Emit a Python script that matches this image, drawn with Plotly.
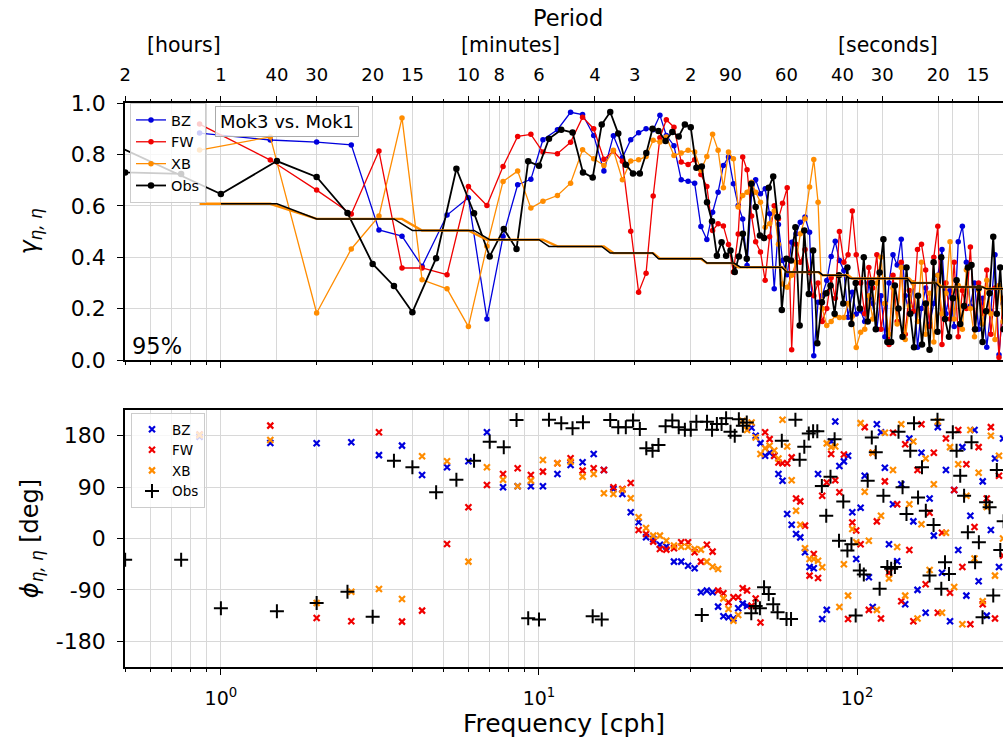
import numpy as np
import plotly.graph_objects as go

# ---------------- data ----------------
F_MODEL = [0.857, 1.43, 2.0, 2.57, 3.14, 3.71, 4.29, 5.14, 6.0, 6.86,
           7.71, 8.57, 9.43, 10.29, 11.43, 12.57, 13.71, 14.86, 16.0, 17.14,
           18.29, 19.43, 20.57, 21.71, 22.86, 24.0, 25.14, 26.57, 28.0, 29.43,
           30.86, 32.29, 33.71, 35.14, 36.57, 38.0, 39.43, 40.86,
           42.3, 43.7, 45.1, 46.6, 48.0, 49.7, 51.4, 53.1, 54.9, 56.6,
           58.3, 60.3, 62.3, 64.3, 66.3, 68.6, 70.9, 73.1, 75.4, 77.7,
           80.3, 82.9, 85.4, 88.0, 90.9, 93.7, 96.6, 99.4, 102.6,
           105.7, 108.9, 112.0, 115.4, 118.9, 122.3, 126.0, 129.7, 133.7, 137.7,
           141.7, 146.0, 150.3, 154.9, 159.4, 164.3, 169.1, 174.3, 179.4, 184.9,
           190.3, 196.0, 202.0, 208.0, 214.3, 220.6, 227.1, 234.0, 241.1, 248.3,
           255.7, 263.4, 271.4, 279.4, 287.7]

# observed series, in the order its line is drawn (the third point lies left of the view)
F_OBS = [0.75, 0.5, 0.25, 1.0, 1.5, 2.0, 2.5, 3.0, 3.5, 4.0, 4.75,
         5.5, 6.25, 7.0, 7.75, 8.5, 9.25, 10.0, 10.75, 11.75, 12.75,
         13.75, 14.75, 15.75, 16.75, 17.75, 18.75, 19.75, 20.75, 21.75, 22.75,
         23.75, 25.0, 26.25, 27.5, 28.75, 30.0, 31.25, 32.5, 33.75, 35.0,
         36.25, 37.5, 38.75, 40.0,
         41.25, 42.5, 43.75, 45.0, 46.5, 48.0, 49.5, 51.0, 52.75, 54.5,
         56.25, 58.0, 60.0, 62.0, 64.0, 66.0, 68.25, 70.5, 72.75, 75.0,
         77.5, 80.0, 82.5, 85.0, 87.75, 90.5, 93.25, 96.0, 99.0, 102.0,
         105.0, 108.0, 111.25, 114.5, 117.75, 121.0, 124.5, 128.0, 131.5, 135.0,
         139.0, 143.0, 147.0, 151.0, 155.5, 160.0, 164.5, 169.0, 174.0, 179.0,
         184.0, 189.0, 194.5, 200.0, 205.5, 211.0, 217.0, 223.0, 229.0, 235.0,
         241.5, 248.0, 254.5, 261.0, 268.0, 275.0, 282.0, 289.0]

COH_BZ = [0.883, 0.856, 0.848, 0.837, 0.506, 0.482, 0.365, 0.564, 0.631, 0.160,
          0.481, 0.682, 0.703, 0.857, 0.896, 0.964, 0.955, 0.874, 0.735, 0.873,
          0.787, 0.857, 0.884, 0.900, 0.896, 0.952, 0.874, 0.834, 0.701, 0.696,
          0.688, 0.519, 0.469, 0.575, 0.653, 0.757, 0.790, 0.686,
          0.601, 0.549, 0.368, 0.647, 0.701, 0.647, 0.666, 0.569, 0.277, 0.527,
          0.387, 0.332, 0.458, 0.491, 0.536, 0.556, 0.497, 0.017, 0.225, 0.251,
          0.309, 0.403, 0.462, 0.387, 0.348, 0.166, 0.264, 0.179, 0.192,
          0.15, 0.30, 0.22, 0.12, 0.25, 0.09, 0.30, 0.41, 0.37, 0.47,
          0.25, 0.18, 0.30, 0.05, 0.20, 0.28, 0.14, 0.22, 0.33, 0.43,
          0.18, 0.27, 0.13, 0.46, 0.52, 0.38, 0.21, 0.30, 0.12, 0.24,
          0.05, 0.19, 0.41, 0.02, 0.22]

COH_FW = [0.918, 0.778, 0.661, 0.568, 0.813, 0.358, 0.358, 0.332, 0.675, 0.601,
          0.753, 0.870, 0.878, 0.809, 0.803, 0.847, 0.945, 0.900, 0.781, 0.813,
          0.773, 0.501, 0.264, 0.338, 0.638, 0.865, 0.935, 0.906, 0.770, 0.761,
          0.779, 0.722, 0.675, 0.504, 0.530, 0.521, 0.449, 0.342,
          0.49, 0.79, 0.74, 0.56, 0.46, 0.42, 0.31, 0.48, 0.60, 0.55,
          0.61, 0.67, 0.04, 0.45, 0.38, 0.43, 0.34, 0.25, 0.30, 0.15,
          0.20, 0.32, 0.24, 0.50, 0.38, 0.41, 0.58, 0.41, 0.30,
          0.18, 0.36, 0.28, 0.41, 0.12, 0.22, 0.06, 0.33, 0.15, 0.38,
          0.10, 0.27, 0.19, 0.43, 0.45, 0.35, 0.13, 0.40, 0.52, 0.06,
          0.30, 0.16, 0.38, 0.09, 0.27, 0.20, 0.44, 0.12, 0.30, 0.18,
          0.35, 0.10, 0.28, 0.01, 0.24]

COH_XB = [0.817, 0.868, 0.183, 0.432, 0.560, 0.942, 0.312, 0.277, 0.130, 0.443,
          0.695, 0.735, 0.591, 0.618, 0.640, 0.688, 0.818, 0.783, 0.757, 0.816,
          0.701, 0.774, 0.779, 0.792, 0.855, 0.848, 0.868, 0.796, 0.805, 0.816,
          0.809, 0.738, 0.792, 0.878, 0.816, 0.670, 0.809, 0.783,
          0.595, 0.64, 0.653, 0.692, 0.653, 0.614, 0.517, 0.53, 0.58, 0.45,
          0.296, 0.283, 0.33, 0.38, 0.491, 0.55, 0.673, 0.78, 0.614, 0.20,
          0.134, 0.15, 0.173, 0.165, 0.165, 0.22, 0.17, 0.049, 0.108,
          0.12, 0.25, 0.16, 0.30, 0.40, 0.22, 0.10, 0.28, 0.14, 0.36,
          0.08, 0.21, 0.30, 0.15, 0.38, 0.10, 0.26, 0.07, 0.33, 0.18,
          0.26, 0.46, 0.16, 0.29, 0.12, 0.35, 0.20, 0.09, 0.27, 0.14,
          0.31, 0.18, 0.08, 0.29, 0.15]

COH_OBS = [0.724, 0.730, 0.990, 0.646, 0.774, 0.712, 0.572, 0.374, 0.288, 0.186, 0.396,
           0.744, 0.571, 0.403, 0.510, 0.432, 0.773, 0.756, 0.861, 0.896, 0.885,
           0.730, 0.710, 0.916, 0.965, 0.881, 0.760, 0.726, 0.726, 0.805, 0.900,
           0.891, 0.852, 0.887, 0.870, 0.916, 0.906, 0.748, 0.753, 0.614, 0.540,
           0.406, 0.458, 0.406, 0.426,
           0.342, 0.403, 0.491, 0.394, 0.686, 0.595, 0.484, 0.475, 0.670, 0.714,
           0.556, 0.195, 0.394, 0.387, 0.517, 0.134, 0.504, 0.257, 0.426, 0.065,
           0.225, 0.26, 0.29, 0.18, 0.33, 0.22, 0.36, 0.14, 0.30, 0.20,
           0.40, 0.15, 0.30, 0.12, 0.34, 0.47, 0.07, 0.07, 0.29, 0.20,
           0.09, 0.36, 0.18, 0.05, 0.25, 0.06, 0.22, 0.04, 0.38, 0.11,
           0.40, 0.16, 0.09, 0.24, 0.31, 0.14, 0.21, 0.36, 0.37, 0.12,
           0.28, 0.07, 0.19, 0.26, 0.48, 0.18, 0.36, 0.12]

PH_BZ = [178, 167.3, 166.7, 168.4, 146, 162.6, 111.2, 124.6, 135.1, 185.9,
         89.6, 91.4, 91.4, 91.4, 113, 128.7, 133.4, 148, 120, 86.7,
         78, 45.8, 28.3, 2.1, -0.9, -10.8, -14, -40.5, -40.5, -47.6,
         -52.2, -94.2, -91.3, -94.2, -119.3, -136.3, -138, -140,
         -122, -114, -118, 194, 180, 167, 145, 150, 145, 113,
         101, 43, 24, 8, 2, -24, -50, -52, 113, -141,
         -125, 170, 205, 127, 135, 145, 46, -36, 54,
         110, -68, -120, 200, 186, 124, -10, 60, -40, 95,
         -115, 175, 30, -90, 150, -130, 70, 5, 195, -60,
         120, -145, 85, -20, 160, -100, 40, 190, -75, 100,
         -135, 15, 140, -50, 175]

PH_FW = [182, 197.6, -139.2, -145, 186, -145.6, -126.3, -9.6, 54.6, 93.7,
         113, 122.9, 111.2, 117.1, 131.6, 140.4, 118.8, 122.9, 120, 89.6,
         86.7, 97.2, 14.9, 7.9, -5.5, -18.4, -19.5, -17.2, -6.7, -6.7,
         -24.2, -40.5, -10.8, -23, -91.3, -96, -111.8, -103,
         -103, -87, -91, -118, -105, -147, 186, 174, 145, 133,
         131.6, 131.6, 142, 70, 65, 22.5, -65, -27, -69, 75,
         98, 148, 102, 81, 147, -141, 28, 14, -10,
         195, -125, 150, 30, -140, 100, -60, 185, 60, -110,
         165, -20, -145, 120, 200, -80, 45, 150, -130, 10,
         175, -95, 85, 190, -50, 130, -150, 20, 160, -115,
         70, 195, -140, 110, -30]

PH_XB = [181, 172.5, -113, -93.1, -88.4, -106, 143.9, 135.1, -40.5, 124.6,
         103, 91.4, 101.3, 137.5, 131.6, 134.6, 108.3, 113, 79.1, 78,
         85.5, 70.4, 37.1, 18.4, 5, 5, -3.8, -12.5, -14.3, -14.3,
         -18.4, -19.5, -40.5, -49.3, -53.4, -104.8, -123.4, -143.9,
         -134, 206, 190, 203, 177, 148, 158, 162.5, 154, 140,
         208, 161, 102, 48.7, 24, -17, -36, -36, -39, -50.5,
         166.6, 160, 161, -120, -45, -100, 16.6, -6.7, 202,
         82, -4, 150, -125, 40, 185, -70, 120, -15, 200,
         -100, 60, 170, -140, 25, 140, -55, 95, 205, -130,
         10, 160, -85, 130, -150, 75, 190, -35, 115, -110,
         55, 180, -65, 145, 0]

PH_OBS = [-37, -37, -37, -122.3, -127.5, -113, -93.1, -136.9, 136.3, 124.6, 80.9,
          103, 136.3, 169.6, 159.7, 207.5, -139.8, -142, 208, 202, 193,
          203.4, -136, -142, 207.5, 194.7, 194.7, 206.4, 191.8, 157.9, 153.8,
          163.7, 196.4, 206.4, 194.7, 190.6, 190.6, 204.6, -134, 204.6, 190.6,
          200.5, 200.5, 210.4, 187.1,
          180, 209, 197.6, 203, -131, -118, -122, -85.5, -97, -115,
          -129, 171, -141, -141, 208, 138, 160.8, 184, 187.6, 187.6,
          92, 40, 108, 174, -4, 65, -21, -10, -135, -56,
          -63, 101, 177, 151, -88, 75, -50, -53, -50, 187,
          89.6, 43, 153.8, 202, 72, 124.6, 48.7, -65, 23.7, 208,
          -88, -41.7, -62, 185.9, 153.8, 110, 75, 10.8, 168.4, -41.7,
          -6.7, -138, 63.4, 54.6, -100, 120, -20, 30]

# 95% significance levels (corner points of the step lines)
SIG_MODEL_F = [0.857, 1.43, 2.0, 3.71, 4.29, 6.0, 6.86, 10.29, 11.43, 16.0, 17.14,
               22.86, 24.0, 32.29, 33.71, 40.86, 42.3, 58.3, 60.3, 75.4, 77.7,
               93.7, 96.6, 146.0, 150.3, 179.4, 184.9, 248.3, 255.7, 300.0]
SIG_MODEL_V = [0.608, 0.608, 0.549, 0.549, 0.504, 0.504, 0.468, 0.468, 0.442, 0.442, 0.416,
               0.416, 0.394, 0.394, 0.377, 0.377, 0.361, 0.361, 0.342, 0.342, 0.330,
               0.330, 0.317, 0.317, 0.300, 0.300, 0.284, 0.284, 0.277, 0.277]
SIG_OBS_F = [1.0, 1.5, 2.0, 3.5, 4.0, 6.25, 7.0, 10.0, 10.75, 15.75, 16.75,
             22.75, 23.75, 32.5, 33.75, 41.0, 43.0, 58.0, 60.0, 76.0, 78.0,
             92.0, 95.0, 144.0, 148.0, 177.0, 182.0, 248.0, 255.0, 300.0]
SIG_OBS_V = [0.608, 0.608, 0.549, 0.549, 0.504, 0.504, 0.468, 0.468, 0.442, 0.442, 0.416,
             0.416, 0.394, 0.394, 0.377, 0.377, 0.361, 0.361, 0.342, 0.342, 0.330,
             0.330, 0.317, 0.317, 0.300, 0.300, 0.284, 0.284, 0.277, 0.277]

FREQ_MAJOR = [1, 10, 100]
FREQ_MAJOR_TEXT = ['10<sup>0</sup>', '10<sup>1</sup>', '10<sup>2</sup>']
FREQ_MINOR = [0.5, 0.6, 0.7, 0.8, 0.9, 2, 3, 4, 5, 6, 7, 8, 9,
              20, 30, 40, 50, 60, 70, 80, 90, 200]
PERIOD_F = [0.5, 1, 1.5, 2, 3, 4, 6, 7.5, 10, 15, 20, 30, 40, 60, 90, 120, 180, 240]
PERIOD_TEXT = ['2', '1', '40', '30', '20', '15', '10', '8', '6', '4', '3', '2',
               '90', '60', '40', '30', '20', '15']
PERIOD_MINOR = [0.6, 0.7, 0.8, 0.9, 5, 7, 8, 9, 50, 70, 80, 100, 200]

Y1_TICKS = [0.0, 0.2, 0.4, 0.6, 0.8, 1.0]
Y2_TICKS = [-180, -90, 0, 90, 180]

assert len(F_MODEL) == len(COH_BZ) == len(COH_FW) == len(COH_XB) == len(PH_BZ) == len(PH_FW) == len(PH_XB)
assert len(F_OBS) == len(COH_OBS) == len(PH_OBS)

# ---------------- styling ----------------
BLUE = '#0000dd'
RED = '#f00000'
ORANGE = '#ff8c00'
BLACK = '#000000'
GRID = '#d8d8d8'
FONT = 'DejaVu Sans'

W, H = 1003, 740
ML, MR, MT, MB = 125, 0, 103, 73
PW, PH = W - ML - MR, H - MT - MB


def px_x(p):
    return (p - ML) / PW


def px_y(p):
    return (H - MB - p) / PH


fig = go.Figure()

# top panel: coherence
for i, (name, f, c, col, lw, ms) in enumerate([('BZ', F_MODEL, COH_BZ, BLUE, 1.3, 5.5),
                                                ('FW', F_MODEL, COH_FW, RED, 1.3, 5.5),
                                                ('XB', F_MODEL, COH_XB, ORANGE, 1.3, 5.5),
                                                ('Obs', F_OBS, COH_OBS, BLACK, 1.8, 6.5)]):
    fig.add_trace(go.Scatter(x=f, y=c, mode='lines+markers', name=name,
                             line=dict(color=col, width=lw),
                             marker=dict(color=col, size=ms),
                             xaxis='x', yaxis='y', legend='legend',
                             legendgroup='top%d' % i))

fig.add_trace(go.Scatter(x=SIG_MODEL_F, y=SIG_MODEL_V, mode='lines',
                         line=dict(color=ORANGE, width=2.4), showlegend=False,
                         xaxis='x', yaxis='y'))
fig.add_trace(go.Scatter(x=SIG_OBS_F, y=SIG_OBS_V, mode='lines',
                         line=dict(color=BLACK, width=1.5), showlegend=False,
                         xaxis='x', yaxis='y'))
# placeholder so the period axis subplot exists
fig.add_trace(go.Scatter(x=[], y=[], xaxis='x3', yaxis='y', showlegend=False,
                         hoverinfo='skip'))

# bottom panel: phase
for i, (name, f, p, col) in enumerate([('BZ', F_MODEL, PH_BZ, BLUE),
                                       ('FW', F_MODEL, PH_FW, RED),
                                       ('XB', F_MODEL, PH_XB, ORANGE)]):
    fig.add_trace(go.Scatter(x=f, y=p, mode='markers', name=name,
                             marker=dict(symbol='x-thin', size=6, color=col,
                                         line=dict(width=2.2, color=col)),
                             xaxis='x2', yaxis='y2', legend='legend2',
                             legendgroup='bot%d' % i))
fig.add_trace(go.Scatter(x=F_OBS, y=PH_OBS, mode='markers', name='Obs',
                         marker=dict(symbol='cross-thin', size=10, color=BLACK,
                                     line=dict(width=2.0, color=BLACK)),
                         xaxis='x2', yaxis='y2', legend='legend2',
                         legendgroup='bot3'))

RNG = [np.log10(0.4995), np.log10(287.6)]
ytickfont = dict(family=FONT, size=22, color='black')
xtickfont = dict(family=FONT, size=19, color='black')


def xaxis_common(**kw):
    d = dict(type='log', range=RNG, showline=True, linecolor='black', linewidth=1.6,
             mirror=True, ticks='outside', ticklen=6, tickwidth=1.3, tickcolor='black',
             showgrid=True, gridcolor=GRID, gridwidth=1, zeroline=False,
             tickvals=FREQ_MAJOR, ticktext=FREQ_MAJOR_TEXT, tickfont=xtickfont,
             ticklabelstandoff=7,
             minor=dict(tickmode='array', tickvals=FREQ_MINOR, ticks='outside',
                        ticklen=3.5, tickwidth=1, tickcolor='black',
                        showgrid=True, gridcolor=GRID, gridwidth=1))
    d.update(kw)
    return d


def yaxis_common(**kw):
    d = dict(showline=True, linecolor='black', linewidth=1.6, mirror=False,
             ticks='outside', ticklen=6, tickwidth=1.3, tickcolor='black',
             showgrid=True, gridcolor=GRID, gridwidth=1, zeroline=False,
             tickfont=ytickfont, ticklabelstandoff=7)
    d.update(kw)
    return d


def note(text, x, y, size, **kw):
    d = dict(text=text, x=px_x(x), y=px_y(y), xref='paper', yref='paper',
             xanchor='center', yanchor='middle', showarrow=False,
             font=dict(size=size, family=FONT, color='black'))
    d.update(kw)
    return d


fig.update_layout(
    width=W, height=H,
    margin=dict(l=ML, r=MR, t=MT, b=MB, pad=0),
    paper_bgcolor='white', plot_bgcolor='white',
    font=dict(family=FONT, color='black'),
    xaxis=xaxis_common(domain=[0, 1], anchor='y', showticklabels=False),
    xaxis2=xaxis_common(domain=[0, 1], anchor='y2',
                        title=dict(text='Frequency [cph]', font=dict(size=25, family=FONT),
                                   standoff=3)),
    xaxis3=dict(type='log', range=RNG, overlaying='x', anchor='y', side='top',
                showline=False, ticks='outside', ticklen=6, tickwidth=1.3, tickcolor='black',
                tickvals=PERIOD_F, ticktext=PERIOD_TEXT,
                tickfont=dict(family=FONT, size=18, color='black'),
                ticklabelstandoff=8, showgrid=True, gridcolor=GRID, gridwidth=1,
                zeroline=False,
                minor=dict(tickmode='array', tickvals=PERIOD_MINOR, ticks='outside',
                           ticklen=3.5, tickwidth=1, tickcolor='black',
                           showgrid=True, gridcolor=GRID, gridwidth=1)),
    yaxis=yaxis_common(domain=[px_y(360), 1], range=[0, 1], tickvals=Y1_TICKS,
                       ticktext=['%.1f' % v for v in Y1_TICKS],
                       title=dict(text='<i>γ</i><sub><i>η, η</i></sub>',
                                  font=dict(size=24, family=FONT), standoff=26)),
    yaxis2=yaxis_common(domain=[0, px_y(410)], range=[-225, 225], tickvals=Y2_TICKS,
                        ticktext=[str(v) for v in Y2_TICKS],
                        title=dict(text='<i>ϕ</i><sub><i>η, η</i></sub> [deg]',
                                   font=dict(size=24, family=FONT), standoff=10)),
    legend=dict(x=px_x(130), y=px_y(103), xanchor='left', yanchor='top',
                bgcolor='rgba(255,255,255,0.8)', bordercolor='#cccccc', borderwidth=1,
                font=dict(size=14.5, family=FONT), itemwidth=30, tracegroupgap=0),
    legend2=dict(x=px_x(131), y=px_y(413), xanchor='left', yanchor='top',
                 bgcolor='rgba(255,255,255,0.8)', bordercolor='#cccccc', borderwidth=1,
                 font=dict(size=13.5, family=FONT), itemwidth=30, tracegroupgap=0),
    annotations=[
        note('Period', 568, 18, 22.5),
        note('[hours]', 184, 45, 20.5),
        note('[minutes]', 510, 45, 20.5),
        note('[seconds]', 888, 45, 20.5),
        note('Mok3 vs. Mok1', 287, 122, 18,
             bgcolor='rgba(255,255,255,0.8)', bordercolor='#aaaaaa', borderwidth=1,
             borderpad=4),
        note('95%', 130, 346, 22.5, xanchor='left'),
    ],
)

fig.write_html('out.html')
